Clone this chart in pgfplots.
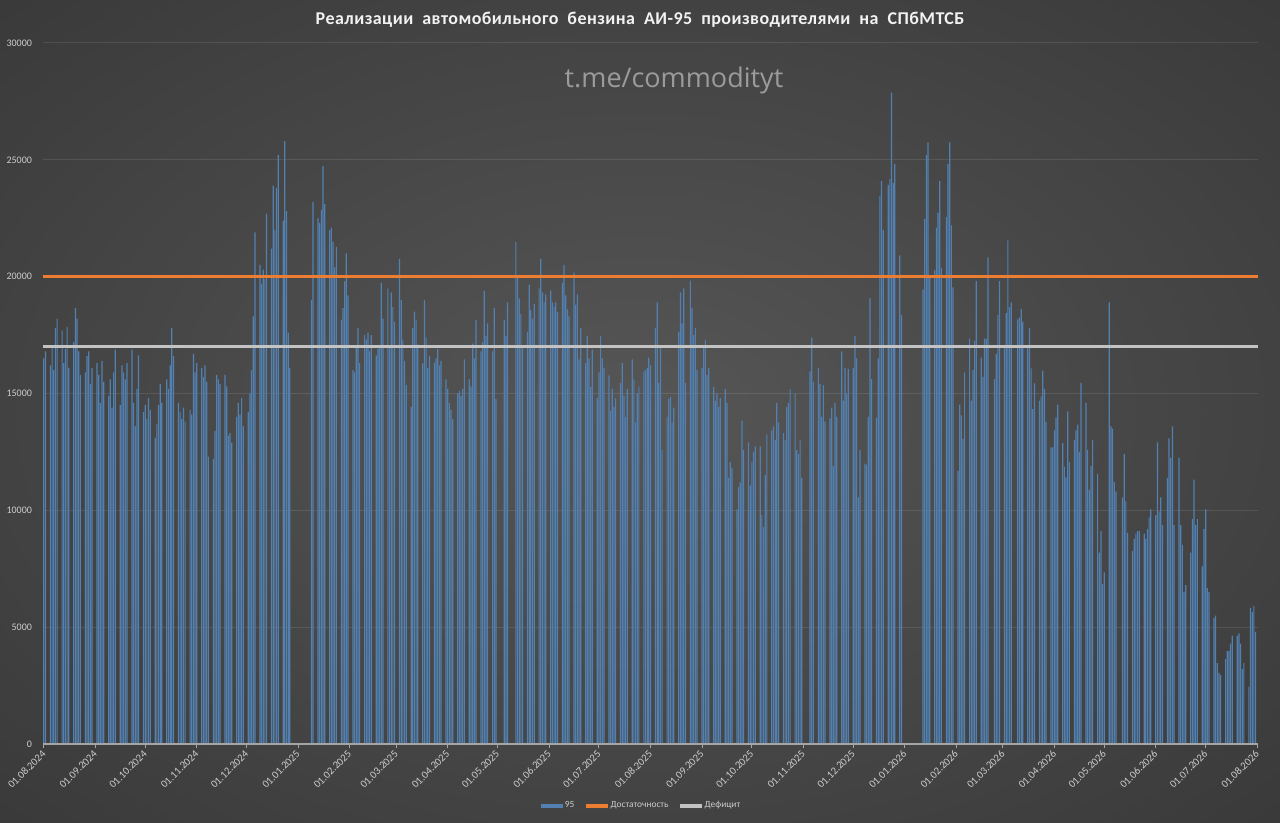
\documentclass[border=0pt]{standalone}
\usepackage{fontspec}
\setmainfont{Carlito}
\newfontfamily\titlefont[LetterSpace=2.5]{Carlito}
\newfontfamily\wmfont{Open Sans}
\usepackage{pgfplots}
\pgfplotsset{compat=1.18}
\usepackage{pgfplotstable}
\definecolor{barblue}{RGB}{82,128,176}
\definecolor{orangec}{RGB}{237,125,49}
\definecolor{grayc}{RGB}{195,195,195}
\definecolor{txtc}{RGB}{205,205,205}
\definecolor{titlec}{RGB}{242,242,242}
\definecolor{wmc}{RGB}{155,155,155}
\definecolor{axc}{RGB}{165,165,165}
\definecolor{bgc}{RGB}{86,86,86}
\definecolor{bgm}{RGB}{66,66,66}
\definecolor{bge}{RGB}{46,46,46}
\definecolor{bgo}{RGB}{32,32,32}
\pgfdeclareradialshading{bgshade}{\pgfpoint{0bp}{0bp}}{color(0bp)=(bgc); color(25bp)=(bgm); color(50bp)=(bge); color(71bp)=(bgo)}

% m = Monday (days since 01.08.2024); a..f = Mon, Tue, Wed, Thu, Fri
\pgfplotstableread{
m a b c e f
-3 nan nan nan 16500 16800
4 16200 17000 16000 17800 18200
11 17700 16300 16900 17850 16100
18 17200 18650 18200 16800 15800
25 15900 16600 16800 15400 16100
32 16300 15800 14600 16400 15500
39 14900 15600 14400 15900 16880
46 14500 16200 15900 15600 16300
53 16880 14600 13600 15200 16630
60 14200 14500 13900 14800 14300
67 13100 13700 14500 15400 14600
74 15600 15200 16200 17800 16600
81 14600 14200 13900 14400 13800
88 14300 14100 16700 15900 16300
95 16100 15700 16200 15500 12300
102 12200 13400 15800 15600 15400
109 15800 15300 13200 13300 12900
116 14000 14600 14100 14800 13600
123 14200 15000 16000 18300 21900
130 20500 19700 20300 19900 22700
137 21200 23900 22000 23800 25200
144 22400 25800 22800 17600 16100
151 nan nan nan nan nan
158 nan nan nan 19000 23200
165 22500 22300 22870 24730 23100
172 22000 22100 21500 20400 21270
179 18150 18650 19800 21000 19200
186 16000 15900 17000 17800 16300
193 17500 17300 17600 16800 17500
200 16630 16900 17000 19750 18200
207 19500 17050 19330 18700 18060
214 20760 19000 17300 16400 15360
221 14430 17800 18500 18150 17100
228 16290 19000 17400 16100 16600
235 16300 16500 16900 16200 16400
242 15600 15200 14600 14300 13900
249 15000 15100 14900 15200 16460
256 15600 15300 17130 16500 18150
263 16800 17200 19400 17470 18000
270 16800 18650 14770 nan nan
277 18150 17470 18900 nan nan
284 21490 20000 19070 18400 16960
291 17640 19660 18570 18200 18820
298 19500 20760 19330 18900 19240
305 19410 18900 18700 18900 18480
312 19750 20500 19200 18600 18300
319 20170 18800 19240 16460 17800
326 16300 17470 16500 15280 16880
333 14800 15900 17470 16500 16100
340 15780 14260 15200 14430 14800
347 15450 16300 14900 14000 15200
354 16460 15600 13760 15000 15280
361 15950 16000 16100 16540 16200
368 17800 18900 15450 17000 12580
375 14000 14770 14850 13760 14400
382 17640 19330 18000 19500 15450
389 19830 18650 17500 17800 16000
396 16100 17000 17300 15800 16100
403 15280 14700 15000 14430 14800
410 15200 14600 11390 12070 11800
417 10040 11000 11200 13840 12580
424 12910 11060 12070 12500 12740
431 12740 9790 9280 11500 13250
438 13420 13590 13000 14600 13760
445 13300 13000 14430 14600 15200
452 15000 12580 12410 13000 11390
459 nan nan 15950 17390 15500
466 16100 15400 14000 15360 13800
473 13930 14400 11900 14600 14000
480 16800 14700 16100 15000 16050
487 16100 17470 16500 10550 12580
494 12000 11960 14000 19080 15610
501 13970 16500 23460 24100 22000
508 23920 24190 27880 24000 24830
515 20910 18350 nan nan nan
522 nan nan nan nan nan
529 19450 22460 25200 25750 20000
536 20270 22100 22730 24100 20360
543 22550 24830 25750 22190 19540
550 11690 14520 14060 13060 15900
557 17350 14700 16000 17260 19810
564 16530 15700 17350 17350 20820
571 nan 15610 16700 18350 19810
578 17000 18440 21550 18700 18900
585 nan 18170 18260 18620 18080
592 17070 17800 16070 14330 15430
599 14700 14880 15980 15200 13790
606 12690 12690 13420 13970 14520
613 12880 11870 11410 14240 12070
620 13000 13420 13670 12500 15450
627 14600 12580 10890 11900 13000
634 11560 8190 9110 6840 7340
641 18900 13590 13500 11220 10800
648 nan 10550 12410 10380 9030
655 8270 8780 9000 9110 9110
662 9000 8780 9200 9700 10040
669 9790 12910 9950 10550 9370
676 11390 13080 12240 13590 9370
683 12240 9370 8520 6500 6800
690 8190 9620 11310 9370 9620
697 7600 9200 10040 6670 6500
704 5400 5490 3460 3040 2950
711 3630 3970 3970 4300 4640
718 4640 4730 4300 3200 3460
725 2450 5820 5650 5900 4800
}\sales

\begin{document}
\begin{tikzpicture}
\shade[shading=bgshade] (0,0) rectangle (640pt,411.5pt);
\node[text=titlec, font=\titlefont\bfseries\fontsize{9}{11}\selectfont] at (320pt,401.5pt) {Реализации\ \ автомобильного\ \ бензина\ \ АИ-95\ \ производителями\ \ на\ \ СПбМТСБ};
\node[text=wmc, font=\wmfont\fontsize{13.5}{16}\selectfont] at (337pt,371pt) {t.me/commodityt};
\begin{axis}[
  at={(21.5pt,39.5pt)}, anchor=south west,
  scale only axis, width=607.5pt, height=350.5pt,
  xmin=-0.5, xmax=730.5, ymin=0, ymax=30000,
  ytick={0,5000,...,30000},
  xtick={0,31,61,92,122,153,184,212,243,273,304,334,365,396,426,457,487,518,549,577,608,638,669,699,730},
  xticklabels={01.08.2024,01.09.2024,01.10.2024,01.11.2024,01.12.2024,01.01.2025,01.02.2025,01.03.2025,01.04.2025,01.05.2025,01.06.2025,01.07.2025,01.08.2025,01.09.2025,01.10.2025,01.11.2025,01.12.2025,01.01.2026,01.02.2026,01.03.2026,01.04.2026,01.05.2026,01.06.2026,01.07.2026,01.08.2026},
  /pgf/number format/assume math mode=true,
  /pgf/number format/1000 sep={},
  scaled y ticks=false,
  axis line style={draw=none},
  ymajorgrids,
  major grid style={draw=white, opacity=0.1, line width=0.5pt},
  ytick style={draw=none},
  xtick style={draw=axc, line width=0.5pt},
  xtick pos=left,
  tick align=outside,
  major tick length=2pt,
  ticklabel style={text=txtc, font=\fontsize{5}{6}\selectfont},
  xticklabel style={rotate=45, anchor=east, xshift=2pt, yshift=-1.5pt, font=\fontsize{5.3}{6}\selectfont},
  legend style={at={(0.4926,-0.0884)}, anchor=center, legend columns=-1, draw=none, fill=none,
    text=txtc, font=\fontsize{4.7}{6}\selectfont,
    nodes={inner xsep=0.7pt},
    /tikz/every even column/.append style={column sep=4pt}},
  clip=false,
]
\addplot[ybar, bar width=0.72, bar shift=0pt, fill=barblue, draw=none,
  legend image code/.code={\fill[barblue] (0pt,-1pt) rectangle (11pt,1pt);}]
  table[x expr=\thisrow{m}, y=a] {\sales};
\addlegendentry{95}
\addplot[ybar, bar width=0.72, bar shift=0pt, fill=barblue, draw=none, forget plot]
  table[x expr=\thisrow{m}+1, y=b] {\sales};
\addplot[ybar, bar width=0.72, bar shift=0pt, fill=barblue, draw=none, forget plot]
  table[x expr=\thisrow{m}+2, y=c] {\sales};
\addplot[ybar, bar width=0.72, bar shift=0pt, fill=barblue, draw=none, forget plot]
  table[x expr=\thisrow{m}+3, y=e] {\sales};
\addplot[ybar, bar width=0.72, bar shift=0pt, fill=barblue, draw=none, forget plot]
  table[x expr=\thisrow{m}+4, y=f] {\sales};
\addplot[orangec, line width=1.7pt,
  legend image code/.code={\draw[orangec, line width=1.7pt] (0pt,0pt) -- (11pt,0pt);}]
  coordinates {(-0.5,20000) (730.5,20000)};
\addlegendentry{Достаточность}
\addplot[grayc, line width=1.7pt,
  legend image code/.code={\draw[grayc, line width=1.7pt] (0pt,0pt) -- (11pt,0pt);}]
  coordinates {(-0.5,17000) (730.5,17000)};
\addlegendentry{Дефицит}
\draw[axc, line width=0.6pt] (rel axis cs:0,0) -- (rel axis cs:1,0);
\end{axis}
\pgfresetboundingbox
\path[use as bounding box] (0,0) rectangle (640pt,411.5pt);
\end{tikzpicture}
\end{document}
